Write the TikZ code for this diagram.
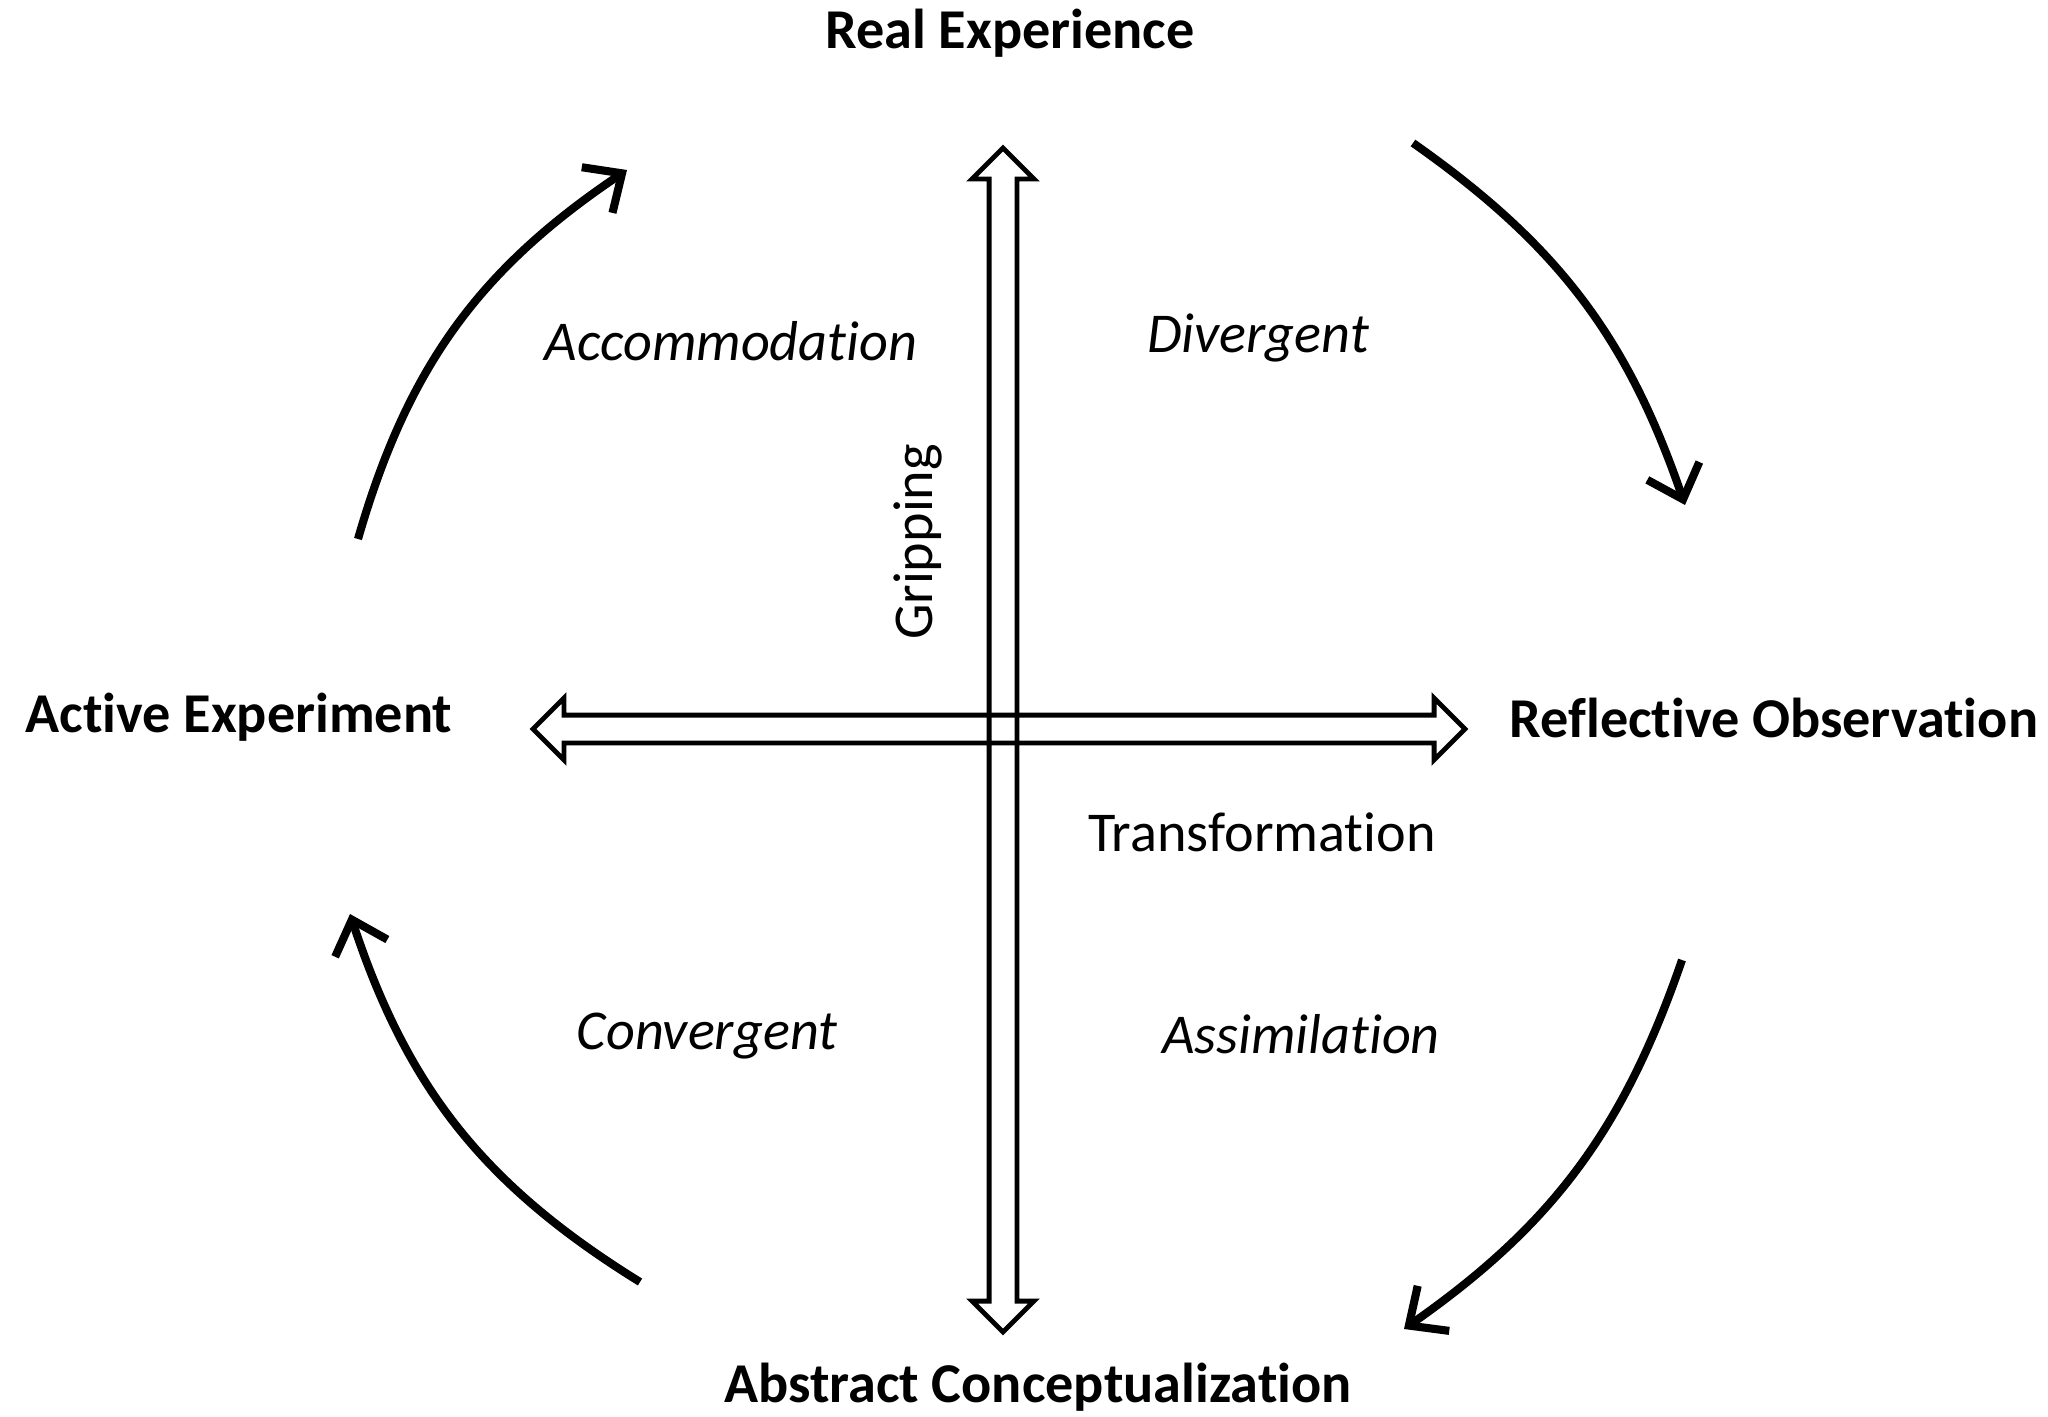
\documentclass[tikz,border=0pt]{standalone}
\usepackage{fontspec}
\setmainfont{Carlito}[RawFeature={-liga;-clig;-calt;-dlig}]
\usetikzlibrary{arrows.meta,shapes.arrows}
\begin{document}
\begin{tikzpicture}[
  stage/.style={font=\fontsize{16}{19}\selectfont\bfseries},
  mode/.style={font=\fontsize{16}{19}\selectfont\itshape},
  plain/.style={font=\fontsize{16}{19}\selectfont},
  axis/.style={double arrow, draw=black, line width=1.4pt, inner sep=0pt, inner ysep=0.115cm, minimum width=0pt, double arrow head extend=0.17cm, double arrow tip angle=90},
  cyc/.style={-{Straight Barb[length=0.3cm,width=0.55cm]}, line width=2.3pt, draw=black}]
\useasboundingbox (0,0) rectangle (20.48,14.16);
\node[stage] (RE) at (10.10, 13.83) {Real Experience};
\node[stage] (AE) at (2.39, 6.99) {Active Experiment};
\node[stage] (RO) at (17.74, 6.98) {Reflective Observation};
\node[stage] (AC) at (10.38, 0.29) {Abstract Conceptualization};
\node[mode] (acc) at (7.31, 10.75) {Accommodation};
\node[mode] (div) at (12.58, 10.78) {Divergent};
\node[mode] (con) at (7.07, 3.80) {Convergent};
\node[mode] (ass) at (13.01, 3.82) {Assimilation};
\node[plain, rotate=90] (grip) at (9.18, 8.74) {Gripping};
\node[plain] (trans) at (12.62, 5.84) {Transformation};
\node[axis, minimum height=11.84cm, rotate=90] (vax) at (10.03, 6.76) {};
\node[axis, minimum height=9.32cm] (hax) at (9.99, 6.87) {};
\coordinate (s1) at (14.13, 12.73);
\coordinate (e1) at (16.85, 9.11);
\coordinate (s2) at (16.82, 4.56);
\coordinate (e2) at (14.04, 0.87);
\coordinate (s3) at (6.40, 1.34);
\coordinate (e3) at (3.50, 5.02);
\coordinate (s4) at (3.58, 8.77);
\coordinate (e4) at (6.27, 12.46);
\path (s1) edge[cyc, bend left=18] (e1);
\path (s2) edge[cyc, bend left=18] (e2);
\path (s3) edge[cyc, bend left=20] (e3);
\path (s4) edge[cyc, bend left=20] (e4);
\end{tikzpicture}
\end{document}
